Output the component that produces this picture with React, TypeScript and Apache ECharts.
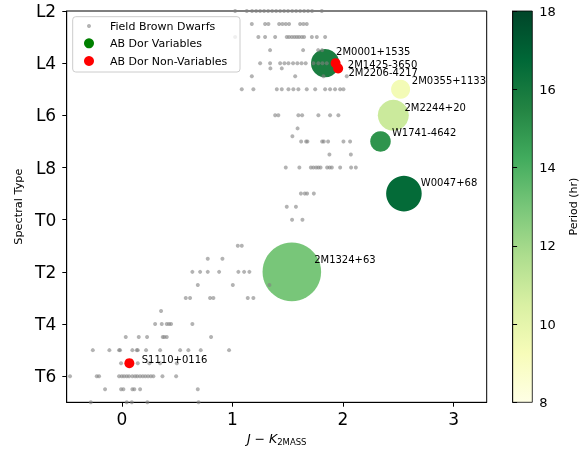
import React, { useEffect, useRef } from 'react';
import * as echarts from 'echarts';

// ---------- data ----------
// Field brown dwarfs: one row per spectral type (numeric: L0 = 10, T0 = 20)
const fieldRows: { spt: number; jk: number[] }[] = [
  { spt: 12, jk: [1.024, 1.129, 1.177, 1.214, 1.25, 1.286, 1.323, 1.359, 1.395, 1.431, 1.467, 1.503, 1.54, 1.576, 1.612, 1.648, 1.684, 1.72, 1.808] },
  { spt: 12.5, jk: [1.175, 1.295, 1.325, 1.422, 1.452, 1.482, 1.512, 1.612, 1.642, 1.672] },
  { spt: 13, jk: [1.024, 1.234, 1.295, 1.386, 1.491, 1.512, 1.537, 1.56, 1.582, 1.603, 1.627, 1.648, 1.718, 1.763, 1.838] },
  { spt: 13.5, jk: [1.34, 1.639, 1.775, 1.811] },
  { spt: 14, jk: [1.25, 1.34, 1.431, 1.47, 1.506, 1.548, 1.587, 1.625, 1.662, 1.732, 1.777, 1.814, 1.853] },
  { spt: 14.2, jk: [1.343, 1.446] },
  { spt: 14.5, jk: [1.175, 1.567, 1.823, 2.034] },
  { spt: 15, jk: [1.084, 1.189, 1.401, 1.446, 1.506, 1.551, 1.596, 1.672, 1.748, 1.838, 1.883, 1.928, 1.974, 2.004] },
  { spt: 16, jk: [1.386, 1.415, 1.596, 1.63, 1.777, 1.883, 1.958] },
  { spt: 16.5, jk: [1.589] },
  { spt: 16.8, jk: [1.542] },
  { spt: 17, jk: [1.621, 1.666, 1.678, 1.811, 1.826, 1.865, 2.004, 2.064] },
  { spt: 17.5, jk: [1.877, 2.071] },
  { spt: 18, jk: [1.482, 1.605, 1.709, 1.732, 1.757, 1.777, 1.797, 1.856, 1.879, 1.899, 1.974, 2.073, 2.116] },
  { spt: 19, jk: [1.619, 1.654, 1.675, 1.736] },
  { spt: 19.5, jk: [1.491, 1.574] },
  { spt: 20, jk: [1.539, 1.633] },
  { spt: 21, jk: [1.048, 1.084] },
  { spt: 21.5, jk: [0.776, 0.909] },
  { spt: 22, jk: [0.637, 0.707, 0.776, 0.879, 1.053, 1.105, 1.153] },
  { spt: 22.5, jk: [0.686, 1.003, 1.334] },
  { spt: 23, jk: [0.577, 0.616, 0.797, 0.827, 1.138, 1.189] },
  { spt: 23.5, jk: [0.354] },
  { spt: 24, jk: [0.3, 0.36, 0.405, 0.426, 0.444, 0.637] },
  { spt: 24.5, jk: [0.034, 0.152, 0.227, 0.369, 0.384, 0.405, 0.806] },
  { spt: 25, jk: [-0.264, -0.114, -0.026, -0.017, 0.094, 0.134, 0.143, 0.218, 0.345, 0.526, 0.601, 0.713, 0.969] },
  { spt: 25.5, jk: [-0.008, 0.143, 0.248, 0.345, 0.496] },
  { spt: 26, jk: [-0.47, -0.228, -0.207, -0.026, -0.002, 0.019, 0.043, 0.064, 0.094, 0.119, 0.139, 0.164, 0.188, 0.212, 0.236, 0.261, 0.284, 0.366, 0.49] },
  { spt: 26.5, jk: [-0.153, -0.008, 0.013, 0.094, 0.112, 0.164, 0.686] },
  { spt: 27, jk: [-0.282, 0.043, 0.089, 0.23, 0.693] },
];

// AB Dor variables
const varNames = ['2M0001+1535', '2M0355+1133', '2M2244+20', 'W1741-4642', 'W0047+68', '2M1324+63'];
const varJK = [1.838, 2.521, 2.455, 2.339, 2.551, 1.537];
const varSpT = [14, 15, 16, 17, 19, 22];
const varPeriod = [15.8, 9.4, 10.9, 15.0, 16.6, 13.0];
const varAmp = [0.82, 0.37, 0.98, 0.43, 1.29, 3.5];

// AB Dor non-variables
const nonVarNames = ['2M1425-3650', '2M2206-4217', 'S1110+0116'];
const nonVarJK = [1.933, 1.956, 0.067];
const nonVarSpT = [14.0, 14.2, 25.5];

// axis ticks
const xTickValues = [0, 1, 2, 3];
const yTickValues = [12, 14, 16, 18, 20, 22, 24, 26];
const yTickLabels = ['L2', 'L4', 'L6', 'L8', 'T0', 'T2', 'T4', 'T6'];
const periodMin = 8;
const periodMax = 18;

// ---------- styling ----------
const FONT = 'DejaVu Sans';
const YLGN = ['#ffffe5', '#f7fcb9', '#d9f0a3', '#addd8e', '#78c679', '#41ab5d', '#238443', '#006837', '#004529'];
const varLabelOffset: [number, number][] = [[11, -11.3], [11.2, -9], [11.1, -8.3], [11.4, -9], [16.9, -11], [22.3, -12]];
const nonVarLabelOffset: [number, number][] = [[12.2, 1.3], [10.3, 4.2], [12.4, -3.4]];
const ampToDiameter = (a: number) => 2 * Math.sqrt(a * 245);

const GRID = { left: 66.7, top: 11, width: 420, height: 391.3 };
const CBAR = { left: 512.7, top: 11, width: 19.6, height: 391.3 };

function buildOption(): any {
  const fieldData: number[][] = [];
  fieldRows.forEach((r) => r.jk.forEach((x) => fieldData.push([x, r.spt])));

  const varData = varNames.map((n, i) => ({
    name: n,
    value: [varJK[i], varSpT[i], varPeriod[i], varAmp[i]],
    label: { offset: varLabelOffset[i] },
  }));
  const nonVarData = nonVarNames.map((n, i) => ({
    name: n,
    value: [nonVarJK[i], nonVarSpT[i]],
    label: { offset: nonVarLabelOffset[i] },
  }));

  const labelCommon = {
    show: true,
    position: 'inside',
    align: 'left',
    verticalAlign: 'middle',
    formatter: (p: any) => p.name,
    fontFamily: FONT,
    fontSize: 10,
    color: '#000',
  };

  const legendY = [26, 43.3, 61];
  const legendText = ['Field Brown Dwarfs', 'AB Dor Variables', 'AB Dor Non-Variables'];

  return {
    animation: false,
    textStyle: { fontFamily: FONT },
    grid: [
      { ...GRID, show: true, borderColor: '#000', borderWidth: 1, backgroundColor: 'transparent', containLabel: false, outerBoundsMode: 'none' },
      {
        ...CBAR,
        show: true,
        borderColor: '#000',
        borderWidth: 0.8,
        containLabel: false,
        outerBoundsMode: 'none',
        backgroundColor: new echarts.graphic.LinearGradient(
          0, 1, 0, 0,
          YLGN.map((c, i) => ({ offset: i / (YLGN.length - 1), color: c }))
        ),
      },
    ],
    xAxis: [
      {
        type: 'value',
        gridIndex: 0,
        min: -0.5,
        max: 3.3,
        axisLine: { show: true, onZero: false, lineStyle: { color: '#000', width: 1 } },
        axisTick: { show: true, length: 4.4, customValues: xTickValues, lineStyle: { color: '#000' } },
        axisLabel: { customValues: xTickValues, fontSize: 17, color: '#000', margin: 8, fontFamily: FONT },
        splitLine: { show: false },
        name: '{it|J} − {it|K}{sub|2MASS}',
        nameLocation: 'middle',
        nameGap: 26,
        nameTextStyle: {
          fontSize: 12.5,
          color: '#000',
          fontFamily: FONT,
          rich: {
            it: { fontStyle: 'italic', fontSize: 12.5, fontFamily: FONT, color: '#000' },
            sub: { fontSize: 8.5, fontFamily: FONT, color: '#000', padding: [7, 0, 0, 0] },
          },
        },
      },
      { type: 'value', gridIndex: 1, min: 0, max: 1, show: false },
    ],
    yAxis: [
      {
        type: 'value',
        gridIndex: 0,
        min: 12,
        max: 27,
        inverse: true,
        axisLine: { show: true, onZero: false, lineStyle: { color: '#000', width: 1 } },
        axisTick: { show: true, length: 4.4, customValues: yTickValues, lineStyle: { color: '#000' } },
        axisLabel: {
          customValues: yTickValues,
          fontSize: 17,
          color: '#000',
          margin: 10.5,
          fontFamily: FONT,
          formatter: (v: number) => {
            const i = yTickValues.indexOf(v);
            return i >= 0 ? yTickLabels[i] : '';
          },
        },
        splitLine: { show: false },
        name: 'Spectral Type',
        nameLocation: 'middle',
        nameGap: 41,
        nameRotate: 90,
        nameTextStyle: { fontSize: 11.3, color: '#000', fontFamily: FONT },
      },
      {
        type: 'value',
        gridIndex: 1,
        min: periodMin,
        max: periodMax,
        interval: 2,
        position: 'right',
        axisLine: { show: true, lineStyle: { color: '#000', width: 0.8 } },
        axisTick: { show: true, length: 4.4, lineStyle: { color: '#000' } },
        axisLabel: { fontSize: 13, color: '#000', margin: 7, fontFamily: FONT },
        splitLine: { show: false },
        name: 'Period (hr)',
        nameLocation: 'middle',
        nameGap: 36,
        nameRotate: 90,
        nameTextStyle: { fontSize: 11, color: '#000', fontFamily: FONT },
      },
    ],
    visualMap: {
      type: 'continuous',
      show: false,
      min: periodMin,
      max: periodMax,
      dimension: 2,
      seriesIndex: 0,
      inRange: { color: YLGN },
    },
    series: [
      {
        type: 'scatter',
        xAxisIndex: 0,
        yAxisIndex: 0,
        data: varData,
        symbol: 'circle',
        symbolSize: (v: number[]) => ampToDiameter(v[3]),
        itemStyle: { opacity: 1 },
        label: labelCommon,
        silent: true,
        z: 2,
      },
      {
        type: 'scatter',
        xAxisIndex: 0,
        yAxisIndex: 0,
        data: fieldData,
        symbol: 'circle',
        symbolSize: 4,
        itemStyle: { color: 'gray', opacity: 0.6 },
        silent: true,
        z: 3,
      },
      {
        type: 'scatter',
        xAxisIndex: 0,
        yAxisIndex: 0,
        data: nonVarData,
        symbol: 'circle',
        symbolSize: 10,
        itemStyle: { color: 'red', opacity: 1 },
        label: labelCommon,
        silent: true,
        z: 4,
      },
    ],
    graphic: [
      {
        type: 'rect',
        z: 100,
        shape: { x: 72.7, y: 16.7, width: 167.3, height: 55.3, r: 3 },
        style: { fill: 'rgba(255,255,255,0.8)', stroke: '#cccccc', lineWidth: 1 },
      },
      { type: 'circle', z: 101, shape: { cx: 89, cy: legendY[0], r: 2 }, style: { fill: 'rgba(128,128,128,0.6)' } },
      { type: 'circle', z: 101, shape: { cx: 89, cy: legendY[1], r: 5 }, style: { fill: 'green' } },
      { type: 'circle', z: 101, shape: { cx: 89, cy: legendY[2], r: 5 }, style: { fill: 'red' } },
      ...legendText.map((t, i) => ({
        type: 'text',
        z: 101,
        x: 110,
        y: legendY[i],
        style: { text: t, fill: '#000', fontSize: 11, fontFamily: FONT, verticalAlign: 'middle', align: 'left' },
      })),
    ],
  };
}

export default function App() {
  const ref = useRef<HTMLDivElement>(null);
  useEffect(() => {
    if (!ref.current) return;
    const chart = echarts.init(ref.current, null, { renderer: 'svg' });
    chart.setOption(buildOption());
    return () => chart.dispose();
  }, []);
  return <div ref={ref} style={{ position: 'fixed', left: 0, top: 0, width: 584, height: 450 }} />;
}
